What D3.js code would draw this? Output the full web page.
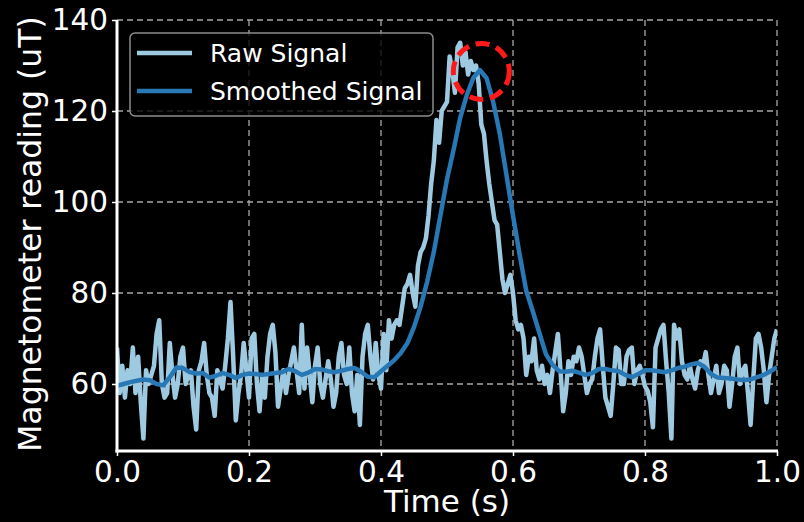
<!DOCTYPE html>
<html>
<head>
<meta charset="utf-8">
<script src="https://cdn.jsdelivr.net/npm/d3@7"></script>
<style>
  html, body { margin: 0; padding: 0; background: #000; }
  svg { display: block; }
  text { font-family: "DejaVu Sans", sans-serif; fill: #fff; }
</style>
</head>
<body>
<svg id="chart" width="804" height="522"></svg>
<script>
// Magnetometer samples, 251 readings evenly spaced over 0..1 s (uT)
const rawValues = [
  68,58,64,57,63,60,68,58,66,56,
  48,63,60,62,64,71,74,60,57,58,
  69,62,57,60,66,68,60,62,63,55,
  50,63,65,69,62,58,57,53,63,61,
  59,64,70,78,66,52,58,62,69,63,
  57,70,71,60,54,62,57,66,71,73,
  67,55,59,63,58,62,65,68,63,58,
  73,59,68,62,56,64,68,60,57,61,
  65,61,55,58,66,69,62,60,68,58,
  54,62,51,66,71,73,66,61,69,62,
  59,71,63,74,70,73,74,73,77,81,
  82,84,80,77,86,89,90,92,97,104,
  109,118,113,120,121,122,132,129,124,134,
  135,130,133,128,131,129,130,126,117,115,
  109,104,100,96,95,89,83,80,82,84,
  80,74,72,73,70,62,66,65,70,63,
  61,64,60,62,58,63,67,71,63,54,
  58,65,62,66,65,68,66,62,58,60,
  61,66,70,72,64,57,55,53,60,68,
  67.5,60,60,66,67.5,68,60,63,64,62,
  59.5,58.5,56,50.5,68,70,72,73,65,58,
  48,73,70,72,65,62,61,64,61,59,
  63,65,64,67,62,58,61,64,58,60,
  64,63,55,60,66,68,60,63,64,58,
  51,61,70,71,68,63,56,62,66,70,72
];

// Smoothed reading every 0.01 s (uT)
const smoothValues = [
  59.6,60.0,60.4,60.7,61.0,60.8,60.0,59.7,61.5,63.6,
  63.5,62.6,62.3,62.4,61.4,61.8,62.4,62.0,61.3,62.0,
  62.3,62.2,62.0,62.2,62.4,62.6,63.3,62.8,62.0,62.5,
  63.3,63.2,62.8,62.6,62.9,63.3,63.5,62.7,61.6,61.5,
  62.8,64.0,65.2,66.8,69.0,72.5,77.0,82.5,89.0,97.0,
  105,111.5,118.5,123.5,127.3,129.0,127.2,122,115,106,
  97,88.5,80.5,76,71.2,66.5,64.2,62.8,62.7,62.9,
  62.5,62.0,62.4,63.3,63.3,63.0,62.8,62.0,61.5,62.2,
  63.0,63.0,62.8,62.6,63.0,63.5,63.8,64.3,64.6,63.8,
  62.2,61.4,61.3,61.2,61.0,60.9,61.0,61.5,62.0,62.8,
  63.7
];

// Detected peak marker (time s, reading uT)
const peakTime = 0.552;
const peakValue = 128.7;

const xTicks = [0.0, 0.2, 0.4, 0.6, 0.8, 1.0];
const yTicks = [60, 80, 100, 120, 140];
const seriesNames = ["Raw Signal", "Smoothed Signal"];
const seriesColors = ["#9ecae1", "#2878b5"];

const rawData = rawValues.map((v, i) => ({ t: i / (rawValues.length - 1), v }));
const smoothData = smoothValues.map((v, i) => ({ t: i / (smoothValues.length - 1), v }));

const svg = d3.select("#chart");
const plotLeft = 117, plotRight = 777, plotTop = 20, plotBottom = 451;

const x = d3.scaleLinear().domain([0, 1]).range([plotLeft, plotRight]);
const y = d3.scaleLinear().domain([45.27, 140]).range([plotBottom, plotTop]);

// Dashed grid
const grid = svg.append("g");
grid.selectAll("line.gx").data(xTicks.filter(d => d > 0)).join("line")
  .attr("x1", d => x(d)).attr("x2", d => x(d))
  .attr("y1", plotTop).attr("y2", plotBottom)
  .attr("stroke", "#a8a8a8").attr("stroke-width", 1.3).attr("stroke-dasharray", "6,4");
grid.selectAll("line.gy").data(yTicks).join("line")
  .attr("x1", plotLeft).attr("x2", plotRight)
  .attr("y1", d => y(d)).attr("y2", d => y(d))
  .attr("stroke", "#a8a8a8").attr("stroke-width", 1.3).attr("stroke-dasharray", "6,4");

svg.append("clipPath").attr("id", "plotClip").append("rect")
  .attr("x", plotLeft).attr("y", plotTop)
  .attr("width", plotRight - plotLeft).attr("height", plotBottom - plotTop);

const line = d3.line().x(d => x(d.t)).y(d => y(d.v));
const plot = svg.append("g").attr("clip-path", "url(#plotClip)");

plot.append("path").datum(rawData)
  .attr("d", line).attr("fill", "none")
  .attr("stroke", seriesColors[0]).attr("stroke-width", 4.5)
  .attr("stroke-linejoin", "round").attr("stroke-linecap", "butt");

plot.append("path").datum(smoothData)
  .attr("d", line).attr("fill", "none")
  .attr("stroke", seriesColors[1]).attr("stroke-width", 4.5)
  .attr("stroke-linejoin", "round");

// Peak highlight
svg.append("circle")
  .attr("cx", x(peakTime)).attr("cy", y(peakValue)).attr("r", 28)
  .attr("fill", "none").attr("stroke", "#ff1a1a").attr("stroke-width", 5)
  .attr("stroke-dasharray", "14,7");

// Axes
const xAxis = d3.axisBottom(x).tickValues(xTicks).tickFormat(d3.format(".1f"))
  .tickSize(5).tickPadding(5);
const yAxis = d3.axisLeft(y).tickValues(yTicks).tickFormat(d3.format("d"))
  .tickSize(5).tickPadding(4);

const gx = svg.append("g").attr("transform", `translate(0,${plotBottom})`).call(xAxis);
gx.select(".domain").remove();
gx.selectAll(".tick line").attr("stroke", "#fff").attr("stroke-width", 1.5);
gx.selectAll(".tick text").attr("font-size", 29.5).attr("fill", "#fff")
  .attr("font-family", "DejaVu Sans");
gx.append("line").attr("x1", plotLeft - 1.5).attr("x2", plotRight + 1).attr("y1", 0).attr("y2", 0)
  .attr("stroke", "#fff").attr("stroke-width", 3);

const gy = svg.append("g").attr("transform", `translate(${plotLeft},0)`).call(yAxis);
gy.select(".domain").remove();
gy.selectAll(".tick line").attr("stroke", "#fff").attr("stroke-width", 1.5);
gy.selectAll(".tick text").attr("font-size", 29.5).attr("fill", "#fff")
  .attr("font-family", "DejaVu Sans");
gy.append("line").attr("x1", 0).attr("x2", 0).attr("y1", plotTop).attr("y2", plotBottom + 1.5)
  .attr("stroke", "#fff").attr("stroke-width", 3);

// Axis titles
svg.append("text").attr("x", (plotLeft + plotRight) / 2).attr("y", 512)
  .attr("text-anchor", "middle").attr("font-size", 31).text("Time (s)");
svg.append("text").attr("transform", `translate(41,234) rotate(-90)`)
  .attr("text-anchor", "middle").attr("font-size", 31.5).text("Magnetometer reading (uT)");

// Legend
const legend = svg.append("g");
legend.append("rect").attr("x", 130).attr("y", 33).attr("width", 303).attr("height", 83)
  .attr("rx", 5).attr("fill", "#000").attr("fill-opacity", 0.8)
  .attr("stroke", "#8c8c8c").attr("stroke-width", 1.5);
seriesNames.forEach((name, i) => {
  const ly = 53 + i * 38;
  legend.append("line").attr("x1", 137).attr("x2", 192).attr("y1", ly).attr("y2", ly)
    .attr("stroke", seriesColors[i]).attr("stroke-width", 4.5);
  legend.append("text").attr("x", 210).attr("y", ly + 9).attr("font-size", 25).text(name);
});
</script>
</body>
</html>
